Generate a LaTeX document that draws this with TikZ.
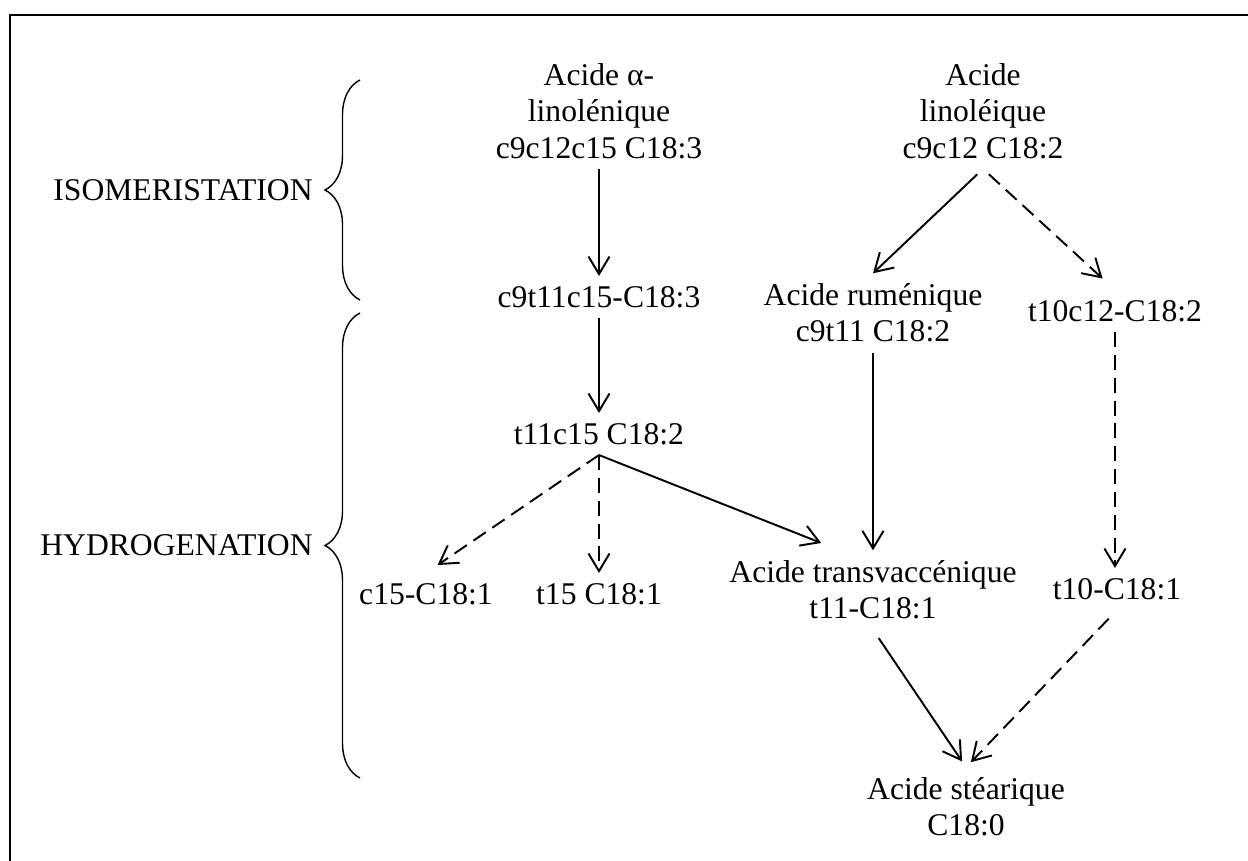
\documentclass[tikz,border=0pt]{standalone}
\usepackage{fontspec}
\setmainfont{Liberation Serif}
\usetikzlibrary{arrows.meta, decorations.pathreplacing}

\begin{document}
\begin{tikzpicture}[x=0.02cm, y=-0.02cm,
  acid/.style={align=center, inner sep=5.67pt,
    font=\fontsize{18}{20.7}\selectfont},
  stage/.style={inner sep=0pt, anchor=east,
    font=\fontsize{18}{20.7}\selectfont},
  arr/.style={-{Straight Barb[length=10pt, width=12pt]}, line width=1.1pt},
  darr/.style={arr, dash pattern=on 8.5pt off 4.5pt},
  brc/.style={decorate, decoration={brace, amplitude=0.7cm}, line width=0.8pt},
]
\useasboundingbox (0,0) rectangle (1248,861);
% frame
\draw[line width=1.4pt] (10,861) -- (10,15) -- (1248,15);
% starting acids
\node[acid] (alin) at (599,111) {Acide α-\\linolénique\\c9c12c15 C18:3};
\node[acid] (lin) at (983,111) {Acide\\linoléique\\c9c12 C18:2};
% isomers
\node[acid] (c9t11) at (599,297) {c9t11c15-C18:3};
\node[acid] (rum) at (873,313) {Acide ruménique\\c9t11 C18:2};
\node[acid] (t10c12) at (1115,311) {t10c12-C18:2};
% hydrogenation products
\node[acid] (t11c15) at (599,434) {t11c15 C18:2};
\node[acid] (c15) at (426,594) {c15-C18:1};
\node[acid] (t15) at (599,594) {t15 C18:1};
\node[acid] (tva) at (873,590) {Acide transvaccénique\\t11-C18:1};
\node[acid] (t10) at (1117,589) {t10-C18:1};
\node[acid] (stea) at (966,807) {Acide stéarique\\C18:0};
% braces and steps
\draw[brc] (360,300) -- (360,80);
\draw[brc] (360,778) -- (360,313);
\node[stage] (iso) at (313,190) {ISOMERISTATION};
\node[stage] (hyd) at (313,545) {HYDROGENATION};
% pathways
\draw[arr] (alin) -- (c9t11);
\draw[arr] (c9t11) -- (t11c15);
\draw[arr, shorten <=4.5pt] (lin.south) -- (rum.north);
\draw[darr, shorten <=4.5pt, shorten >=9.6pt] (lin.south) -- (t10c12.north);
\draw[arr] (rum) -- (tva);
\draw[darr] (t10c12) -- (t10c12 |- t10.north);
\draw[darr, shorten >=8pt] (t11c15.south) -- (c15.north);
\draw[darr] (t11c15.south) -- (t15.north);
\draw[arr, shorten >=11.3pt] (t11c15.south) -- (tva.130);
\draw[arr, shorten <=5.7pt, shorten >=4pt] (tva.south) -- (stea.north);
\draw[darr, shorten <=6.8pt, shorten >=4pt] (t10.south) -- (stea.north);
\end{tikzpicture}
\end{document}
